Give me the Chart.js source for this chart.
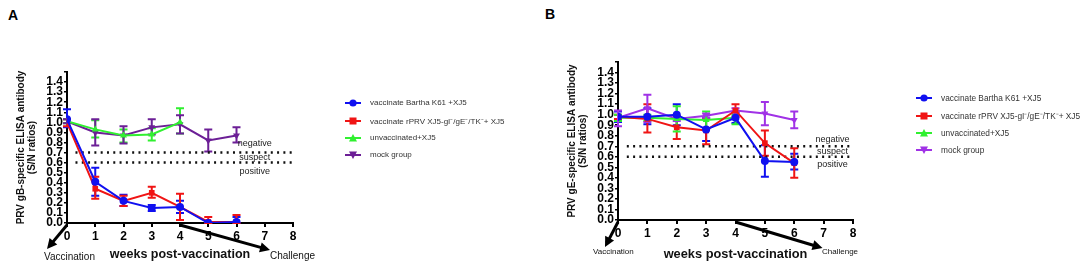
<!DOCTYPE html>
<html>
<head>
<meta charset="utf-8">
<script src="https://cdn.jsdelivr.net/npm/chart.js@4.4.1/dist/chart.umd.min.js"></script>
<style>
  body { margin: 0; background: #fff; width: 1084px; height: 264px; overflow: hidden; position: relative; font-family: Arial, "Liberation Sans", sans-serif; }
  canvas { position: absolute; top: 0; }
  .tag { position: absolute; font: bold 14px Arial, "Liberation Sans", sans-serif; }
  .legend { position: absolute; color: #333; }
  .legend .row { display: flex; align-items: center; white-space: nowrap; }
  .legend svg { margin-right: 9px; }
</style>
</head>
<body>
<div class="tag" style="left:8px;top:7px">A</div>
<div class="tag" style="left:545px;top:6px">B</div>
<canvas id="chartA" width="545" height="264" style="left:0"></canvas>
<canvas id="chartB" width="539" height="264" style="left:545px"></canvas>
<div class="legend" id="legA" style="left:345px;top:93px;font-size:8px"></div>
<div class="legend" id="legB" style="left:916px;top:88px;font-size:8.3px"></div>
<script>
'use strict';

// --- data ---
const WEEKS = [0, 1, 2, 3, 4, 5, 6];
const WEEKS_UNVAC = [0, 1, 2, 3, 4];
const CUTOFF_NEG = 0.7;
const CUTOFF_POS = 0.6;
const GROUPS = ['vaccinate Bartha K61 +XJ5', 'vaccinate rPRV XJ5-gI\u207B/gE\u207B/TK\u207B+ XJ5', 'unvaccinated+XJ5', 'mock group'];

// panel A: gB ELISA
const A_BARTHA    = [1.03, 0.41, 0.22, 0.15, 0.16, 0.00, 0.01];
const A_BARTHA_HI = [1.13, 0.55, 0.28, 0.18, 0.22, 0.01, 0.06];
const A_BARTHA_LO = [0.95, 0.27, 0.17, 0.12, 0.10, 0.00, 0.00];
const A_RPRV      = [1.00, 0.34, 0.22, 0.30, 0.16, 0.01, 0.01];
const A_RPRV_HI   = [1.03, 0.46, 0.27, 0.36, 0.29, 0.06, 0.08];
const A_RPRV_LO   = [0.96, 0.24, 0.17, 0.25, 0.03, 0.00, 0.00];
const A_UNVAC     = [1.01, 0.93, 0.87, 0.88, 1.00];
const A_UNVAC_HI  = [1.03, 1.02, 0.93, 0.94, 1.14];
const A_UNVAC_LO  = [0.99, 0.85, 0.80, 0.82, 0.89];
const A_MOCK      = [1.01, 0.90, 0.87, 0.95, 0.98, 0.82, 0.87];
const A_MOCK_HI   = [1.03, 1.03, 0.96, 1.03, 1.07, 0.93, 0.95];
const A_MOCK_LO   = [0.99, 0.77, 0.79, 0.88, 0.89, 0.71, 0.80];

// panel B: gE ELISA
const B_BARTHA    = [0.98, 0.98, 1.00, 0.86, 0.97, 0.56, 0.55];
const B_BARTHA_HI = [1.03, 1.06, 1.10, 0.97, 1.02, 0.71, 0.63];
const B_BARTHA_LO = [0.93, 0.91, 0.90, 0.75, 0.92, 0.41, 0.48];
const B_RPRV      = [0.98, 0.96, 0.88, 0.85, 1.04, 0.73, 0.54];
const B_RPRV_HI   = [1.00, 1.10, 0.99, 0.96, 1.10, 0.85, 0.68];
const B_RPRV_LO   = [0.96, 0.83, 0.77, 0.72, 0.98, 0.61, 0.40];
const B_UNVAC     = [0.97, 0.97, 0.96, 0.95, 0.97];
const B_UNVAC_HI  = [1.00, 1.00, 1.08, 1.03, 1.00];
const B_UNVAC_LO  = [0.94, 0.94, 0.84, 0.87, 0.91];
const B_MOCK      = [0.97, 1.06, 0.96, 0.99, 1.04, 1.01, 0.95];
const B_MOCK_HI   = [1.04, 1.19, 0.98, 1.01, 1.06, 1.12, 1.03];
const B_MOCK_LO   = [0.89, 0.93, 0.94, 0.97, 1.02, 0.90, 0.87];

const BLUE = '#1010f0';
const RED = '#f01414';
const GREEN = '#30f030';
const PURPLE_A = '#6c1f96';
const PURPLE_B = '#a032e6';
const FONT = 'Arial, "Liberation Sans", sans-serif';

const pts = (xs, ys) => xs.map((x, i) => ({ x, y: ys[i] }));

function series(label, xs, ys, hi, lo, color, style, rot) {
  return {
    label, data: pts(xs, ys), hi, lo,
    borderColor: color, backgroundColor: color,
    borderWidth: 2, pointStyle: style, rotation: rot || 0,
    pointRadius: 4, pointBorderWidth: 0,
    tension: 0,
  };
}

function cutoff(y) {
  return {
    label: 'cutoff', data: [{ x: 0.3, y }, { x: 8, y }],
    borderColor: '#111', borderWidth: 2.5, borderDash: [2, 4.3],
    pointRadius: 0, fill: false,
  };
}

// error bars drawn under the markers
const errorBars = {
  id: 'errorBars',
  beforeDatasetsDraw(chart) {
    const { ctx, scales: { x, y } } = chart;
    chart.data.datasets.forEach(ds => {
      if (!ds.hi) return;
      ctx.save();
      ctx.strokeStyle = ds.borderColor;
      ctx.lineWidth = 2;
      ds.data.forEach((p, i) => {
        const px = x.getPixelForValue(p.x);
        const yh = y.getPixelForValue(ds.hi[i]);
        const yl = y.getPixelForValue(ds.lo[i]);
        ctx.beginPath();
        ctx.moveTo(px, yh); ctx.lineTo(px, yl);
        ctx.moveTo(px - 4, yh); ctx.lineTo(px + 4, yh);
        ctx.moveTo(px - 4, yl); ctx.lineTo(px + 4, yl);
        ctx.stroke();
      });
      ctx.restore();
    });
  },
};

function arrow(ctx, x1, y1, x2, y2) {
  const a = Math.atan2(y2 - y1, x2 - x1);
  const L = 10, W = 5;
  ctx.beginPath();
  ctx.moveTo(x1, y1);
  ctx.lineTo(x2 - Math.cos(a) * L * 0.8, y2 - Math.sin(a) * L * 0.8);
  ctx.stroke();
  ctx.beginPath();
  ctx.moveTo(x2, y2);
  ctx.lineTo(x2 - Math.cos(a) * L + Math.sin(a) * W, y2 - Math.sin(a) * L - Math.cos(a) * W);
  ctx.lineTo(x2 - Math.cos(a) * L - Math.sin(a) * W, y2 - Math.sin(a) * L + Math.cos(a) * W);
  ctx.closePath();
  ctx.fill();
}

// cut-off labels, vaccination / challenge arrows
const notes = {
  id: 'notes',
  afterDraw(chart, args, o) {
    const { ctx, scales: { x, y } } = chart;
    ctx.save();
    ctx.fillStyle = '#222';
    ctx.textAlign = 'center';
    ctx.textBaseline = 'middle';
    ctx.font = o.zoneFont;
    o.zones.forEach(z => ctx.fillText(z.text, x.getPixelForValue(o.zoneX), y.getPixelForValue(z.y)));

    ctx.strokeStyle = '#000';
    ctx.fillStyle = '#000';
    ctx.lineWidth = 3;
    const y0 = y.getPixelForValue(0) + 2;
    const xv = x.getPixelForValue(0);
    const xc = x.getPixelForValue(4);
    arrow(ctx, xv, y0, xv + o.vacc[0], y0 + o.vacc[1]);
    arrow(ctx, xc, y0, xc + o.chal[0], y0 + o.chal[1]);

    ctx.fillStyle = '#111';
    ctx.font = o.noteFont;
    ctx.textAlign = 'left';
    ctx.fillText('Vaccination', o.vaccText[0], o.vaccText[1]);
    ctx.fillText('Challenge', o.chalText[0], o.chalText[1]);
    ctx.restore();
  },
};

function makeChart(id, cfg) {
  return new Chart(document.getElementById(id), {
    type: 'line',
    data: { datasets: cfg.datasets },
    options: {
      responsive: false,
      animation: false,
      layout: { padding: cfg.padding },
      plugins: {
        legend: { display: false },
        tooltip: { enabled: false },
        notes: cfg.notes,
      },
      scales: {
        x: {
          type: 'linear', min: 0, max: 8,
          afterFit: s => { s.height = cfg.xHeight; },
          ticks: { stepSize: 1, color: '#000', padding: 2, font: { family: FONT, size: 12, weight: 'bold' } },
          grid: { display: true, drawOnChartArea: false, drawTicks: true, tickLength: 4, color: '#000', lineWidth: 2 },
          border: { display: true, color: '#000', width: 2 },
          title: { display: true, text: 'weeks post-vaccination', color: '#111', padding: { top: 0, bottom: 2 }, font: { family: FONT, size: cfg.xTitleSize, weight: 'bold' } },
        },
        y: {
          min: 0, max: 1.5,
          afterFit: s => { s.width = cfg.yWidth; },
          ticks: {
            stepSize: 0.1, color: '#000', padding: 1, autoSkip: false,
            font: { family: FONT, size: 12, weight: 'bold' },
            callback: v => (v > 1.45 ? '' : v.toFixed(1)),
          },
          grid: { display: true, drawOnChartArea: false, drawTicks: true, tickLength: 3, color: '#000', lineWidth: 1.5 },
          border: { display: true, color: '#000', width: 2 },
          title: { display: true, text: cfg.yTitle, color: '#111', padding: 0, font: { family: FONT, size: 10, weight: 'bold', lineHeight: 1.05 } },
        },
      },
    },
    plugins: [errorBars, notes],
  });
}

makeChart('chartA', {
  datasets: [
    series(GROUPS[0], WEEKS, A_BARTHA, A_BARTHA_HI, A_BARTHA_LO, BLUE, 'circle'),
    series(GROUPS[1], WEEKS, A_RPRV, A_RPRV_HI, A_RPRV_LO, RED, 'rect'),
    series(GROUPS[2], WEEKS_UNVAC, A_UNVAC, A_UNVAC_HI, A_UNVAC_LO, GREEN, 'triangle'),
    series(GROUPS[3], WEEKS, A_MOCK, A_MOCK_HI, A_MOCK_LO, PURPLE_A, 'triangle', 180),
    cutoff(CUTOFF_NEG), cutoff(CUTOFF_POS),
  ],
  padding: { left: 16, top: 72, right: 252, bottom: 0 },
  yWidth: 51, xHeight: 41, xTitleSize: 12.5,
  yTitle: ['PRV gB-specific ELISA antibody', '(S/N ratios)'],
  notes: {
    zoneX: 6.65, zoneFont: '9px ' + FONT,
    zones: [{ y: 0.79, text: 'negative' }, { y: 0.65, text: 'suspect' }, { y: 0.51, text: 'positive' }],
    vacc: [-20, 24], chal: [90, 25],
    noteFont: '10px ' + FONT, vaccText: [44, 257], chalText: [270, 256],
  },
});

makeChart('chartB', {
  datasets: [
    series(GROUPS[0], WEEKS, B_BARTHA, B_BARTHA_HI, B_BARTHA_LO, BLUE, 'circle'),
    series(GROUPS[1], WEEKS, B_RPRV, B_RPRV_HI, B_RPRV_LO, RED, 'rect'),
    series(GROUPS[2], WEEKS_UNVAC, B_UNVAC, B_UNVAC_HI, B_UNVAC_LO, GREEN, 'triangle'),
    series(GROUPS[3], WEEKS, B_MOCK, B_MOCK_HI, B_MOCK_LO, PURPLE_B, 'triangle', 180),
    cutoff(CUTOFF_NEG), cutoff(CUTOFF_POS),
  ],
  padding: { left: 22, top: 62, right: 231, bottom: 0 },
  yWidth: 51, xHeight: 44, xTitleSize: 12.8,
  yTitle: ['PRV gE-specific ELISA antibody', '(S/N ratios)'],
  notes: {
    zoneX: 7.3, zoneFont: '9px ' + FONT,
    zones: [{ y: 0.76, text: 'negative' }, { y: 0.65, text: 'suspect' }, { y: 0.53, text: 'positive' }],
    vacc: [-13, 25], chal: [87, 26],
    noteFont: '8px ' + FONT, vaccText: [48, 252], chalText: [277, 252],
  },
});

// html legends with line + marker swatches
function legend(id, colors) {
  const shapes = [
    c => `<circle cx="8" cy="5" r="3.6" fill="${c}"/>`,
    c => `<rect x="4.5" y="1.5" width="7" height="7" fill="${c}"/>`,
    c => `<polygon points="8,1 12,8.5 4,8.5" fill="${c}"/>`,
    c => `<polygon points="8,9 12,1.5 4,1.5" fill="${c}"/>`,
  ];
  const heights = [19, 17, 17, 17];
  document.getElementById(id).innerHTML = GROUPS.map((g, i) =>
    `<div class="row" style="height:${heights[i]}px"><svg width="16" height="10"><line x1="0" y1="5" x2="16" y2="5" stroke="${colors[i]}" stroke-width="2"/>${shapes[i](colors[i])}</svg><span>${g}</span></div>`
  ).join('');
}
legend('legA', [BLUE, RED, GREEN, PURPLE_A]);
legend('legB', [BLUE, RED, GREEN, PURPLE_B]);
</script>
</body>
</html>
